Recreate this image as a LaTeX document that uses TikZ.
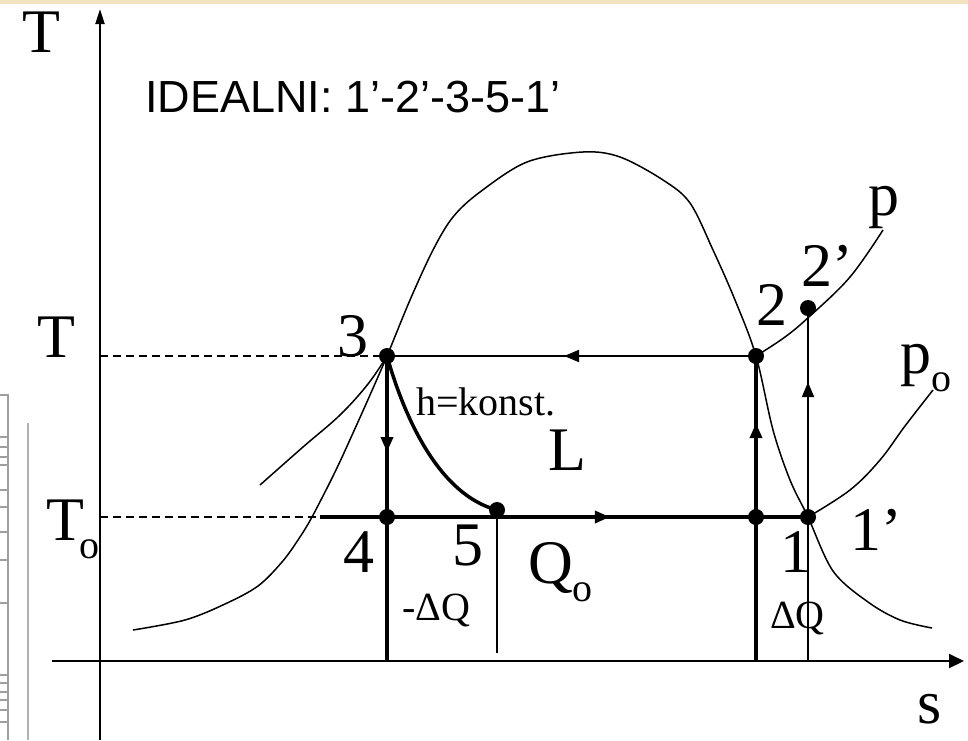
\documentclass[tikz,border=0pt]{standalone}
\usepackage{fontspec}
\setmainfont{Liberation Serif}
\newfontfamily\arialf{Liberation Sans}
\usetikzlibrary{arrows.meta,decorations.markings}
\definecolor{bandbeige}{RGB}{242,226,192}
\newcommand\bigf{\fontsize{62}{62}\selectfont}
\newcommand\midf{\fontsize{40}{40}\selectfont}
\newcommand\subo{\raisebox{-18pt}{\fontsize{40}{40}\selectfont o}}
\tikzset{
  lbl/.style={inner sep=0pt, anchor=base west, font=\bigf},
  smalllbl/.style={inner sep=0pt, anchor=base west, font=\midf},
  thin curve/.style={line width=1.5pt},
  thickline/.style={line width=3.5pt},
  medline/.style={line width=2.2pt},
  axisline/.style={line width=2pt},
  dashline/.style={line width=1.5pt, dash pattern=on 8pt off 5pt},
  dot/.style={circle, fill=black, inner sep=0pt, minimum size=16pt},
  midarrow/.style={postaction={decorate}, decoration={markings,
     mark=at position #1 with {\arrow{Triangle[length=15pt,width=12pt]}}}},
}
\begin{document}
\begin{tikzpicture}[x=1pt,y=-1pt]
\useasboundingbox (0,0) rectangle (968,740);
\fill[white] (0,0) rectangle (968,740);
\fill[bandbeige] (0,0) rectangle (968,4);

% faint artefact at the left edge
\draw[gray!75, line width=1.3pt] (0,395) -- (8,395) -- (8,740);
\foreach \yy in {437,447,457,465,490,507,532,560,603,675,683,692,700,710,722}
  \draw[gray!75, line width=1.1pt] (0,\yy) -- (8,\yy);
\draw[gray!60, line width=1.2pt] (28,423) -- (28,740);

% points
\coordinate (P3) at (387,356);
\coordinate (P4) at (387,517);
\coordinate (P5) at (497,510);
\coordinate (P2) at (756,356);
\coordinate (P1) at (756,517);
\coordinate (P1p) at (808,517);
\coordinate (P2p) at (808,308);
\coordinate (B4) at (387,661);
\coordinate (B5) at (497,653);
\coordinate (B1) at (756,661);
\coordinate (B1p) at (808,661);
\coordinate (Td) at (100,356);
\coordinate (Tod) at (100,517);
\coordinate (Ls) at (320,517);
\coordinate (Tbot) at (100,740);
\coordinate (Ttop) at (100,9);
\coordinate (Sleft) at (52,661);
\coordinate (Sright) at (964,661);

% axes
\draw[axisline, -{Triangle[length=15pt,width=9pt]}] (Tbot) -- (Ttop);
\draw[axisline, -{Triangle[length=15pt,width=14pt]}] (Sleft) -- (Sright);

% dashed levels
\draw[dashline] (Td) -- (P3);
\draw[dashline] (Tod) -- (Ls);

% saturation dome
\draw[thin curve] plot[smooth, tension=0.55] coordinates {
 (133,630) (185,620) (225,604) (258,586) (282,562) (298,540) (312,517) (335,472)
 (353,433) (370,395) (387,356) (410,300) (433,250) (453,217) (480,192)
 (527,162) (583,152) (620,157) (663,180) (690,203) (713,250) (735,300)
 (756,356) (773,430) (790,480) (808,517) (833,571) (868,602) (900,620) (932,628)};

% isobars
\draw[thin curve] plot[smooth, tension=0.6] coordinates {
 (387,356) (368,384) (340,415) (303,447) (260,485)};
\draw[thin curve] plot[smooth, tension=0.6] coordinates {
 (756,356) (785,337) (810,316) (850,277) (883,230)};
\draw[thin curve] plot[smooth, tension=0.6] coordinates {
 (808,517) (850,490) (880,460) (905,426) (933,390)};

% cycle
\draw[medline, midarrow=0.52] (P2) -- (P3);
\draw[thickline, midarrow=0.594] (Ls) -- (P1p);
\draw[thickline, midarrow=0.315] (P3) -- (B4);
\draw[thickline, midarrow=0.78] (B1) -- (P2);
\draw[medline, midarrow=0.79] (B1p) -- (P2p);
\draw[line width=2pt] (P5) -- (B5);
\draw[line width=3.5pt] (P3) .. controls (405,420) and (440,495) .. (P5);

% dots
\foreach \p in {P3,P4,P5,P2,P1,P1p,P2p} \node[dot] at (\p) {};

% labels
\node[lbl] (lT) at (22,52) {T};
\node[lbl] (lTm) at (37,357) {T};
\node[lbl] (lTo) at (46,540) {T\kern-5pt\subo};
\node[lbl] (l3) at (337,356) {3};
\node[lbl] (l4) at (343,572) {4};
\node[lbl] (l5) at (452,565) {5};
\node[lbl] (lQo) at (528,583) {Q\subo};
\node[lbl] (lL) at (548,470) {L};
\node[smalllbl] (lh) at (416,415) {h=konst.};
\node[smalllbl] (ldq) at (402,620) {-ΔQ};
\node[smalllbl] (ldq2) at (770,628) {ΔQ};
\node[lbl] (l1) at (780,572) {1};
\node[lbl] (l1p) at (850,550) {1’};
\node[lbl] (l2) at (756,325) {2};
\node[lbl] (l2p) at (801,286) {2’};
\node[lbl] (lp) at (868,215) {p};
\node[lbl] (lpo) at (900,373) {p\subo};
\node[lbl] (ls) at (917,723) {s};
\node[inner sep=0pt, anchor=base west, font=\arialf\fontsize{45}{45}\selectfont] (lid) at (145,112) {IDEALNI: 1’-2’-3-5-1’};
\end{tikzpicture}
\end{document}
